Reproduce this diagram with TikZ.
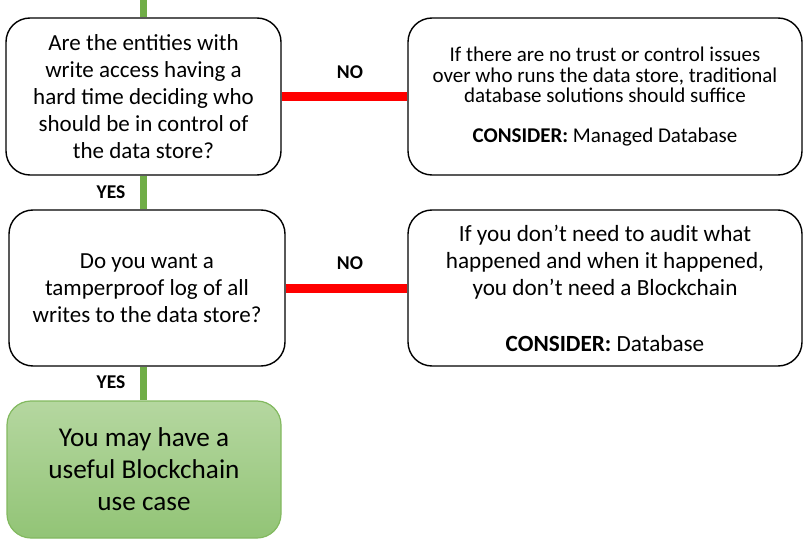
\documentclass[tikz,border=0pt]{standalone}
\usepackage{fontspec}
\setmainfont{Carlito}
\usetikzlibrary{backgrounds}
\begin{document}
\begin{tikzpicture}[x=1pt,y=-1pt,
  box/.style={draw=black, line width=1.4pt, rounded corners=24pt, fill=white, align=center, inner sep=0pt},
  endbox/.style={draw=greenedge, line width=1.2pt, rounded corners=24pt, top color=greentop, bottom color=greenbot, align=center, inner sep=0pt},
  yesline/.style={draw=flowgreen, line width=7pt},
  noline/.style={draw=red, line width=9pt},
  lbl/.style={font=\fontsize{19.5}{22}\selectfont\bfseries, inner sep=0pt}]
\definecolor{flowgreen}{RGB}{112,173,71}
\definecolor{greenedge}{RGB}{130,185,95}
\definecolor{greentop}{RGB}{181,215,160}
\definecolor{greenbot}{RGB}{146,196,118}
\useasboundingbox (0,0) rectangle (803,540);

% decision boxes
\coordinate (top) at (143.5,0);
\node (q1) [box, minimum width=275pt, minimum height=157pt, font=\fontsize{23}{27}\selectfont] at (143.5,96.5)
  {Are the entities with\\write access having a\\hard time deciding who\\should be in control of\\the data store?};
\node (q2) [box, minimum width=276pt, minimum height=156pt, font=\fontsize{23}{27}\selectfont] at (147,288)
  {Do you want a\\tamperproof log of all\\writes to the data store?};
\node (ok) [endbox, minimum width=274pt, minimum height=137pt, font=\fontsize{27.2}{32}\selectfont] at (144,469.5)
  {You may have a\\useful Blockchain\\use case};

% outcome boxes
\node (a1) [box, minimum width=394pt, minimum height=157pt, font=\fontsize{21}{20.5}\selectfont] at (605,96.5)
  {If there are no trust or control issues\\over who runs the data store, traditional\\database solutions should suffice\\[19pt]\textbf{CONSIDER:} Managed Database};
\node (a2) [box, minimum width=394pt, minimum height=156pt, font=\fontsize{23.2}{27}\selectfont] at (605,288)
  {If you don’t need to audit what\\happened and when it happened,\\you don’t need a Blockchain\\[29pt]\textbf{CONSIDER:} Database};

% connectors, kept behind the boxes
\begin{scope}[on background layer]
\path[yesline] (top) -- (q1.north -| top);
\path[yesline] (q1.south -| top) -- (q2.north -| top);
\path[yesline] (q2.south -| top) -- (ok.north -| top);
\path[noline] (q1.east) -- (a1.west);
\path[noline] (q2.east) -- (a2.west);
\end{scope}

\node[lbl] (y1) at (111,192) {YES};
\node[lbl] (y2) at (111,382) {YES};
\node[lbl] (n1) at (350,72) {NO};
\node[lbl] (n2) at (350,263) {NO};
\end{tikzpicture}
\end{document}
